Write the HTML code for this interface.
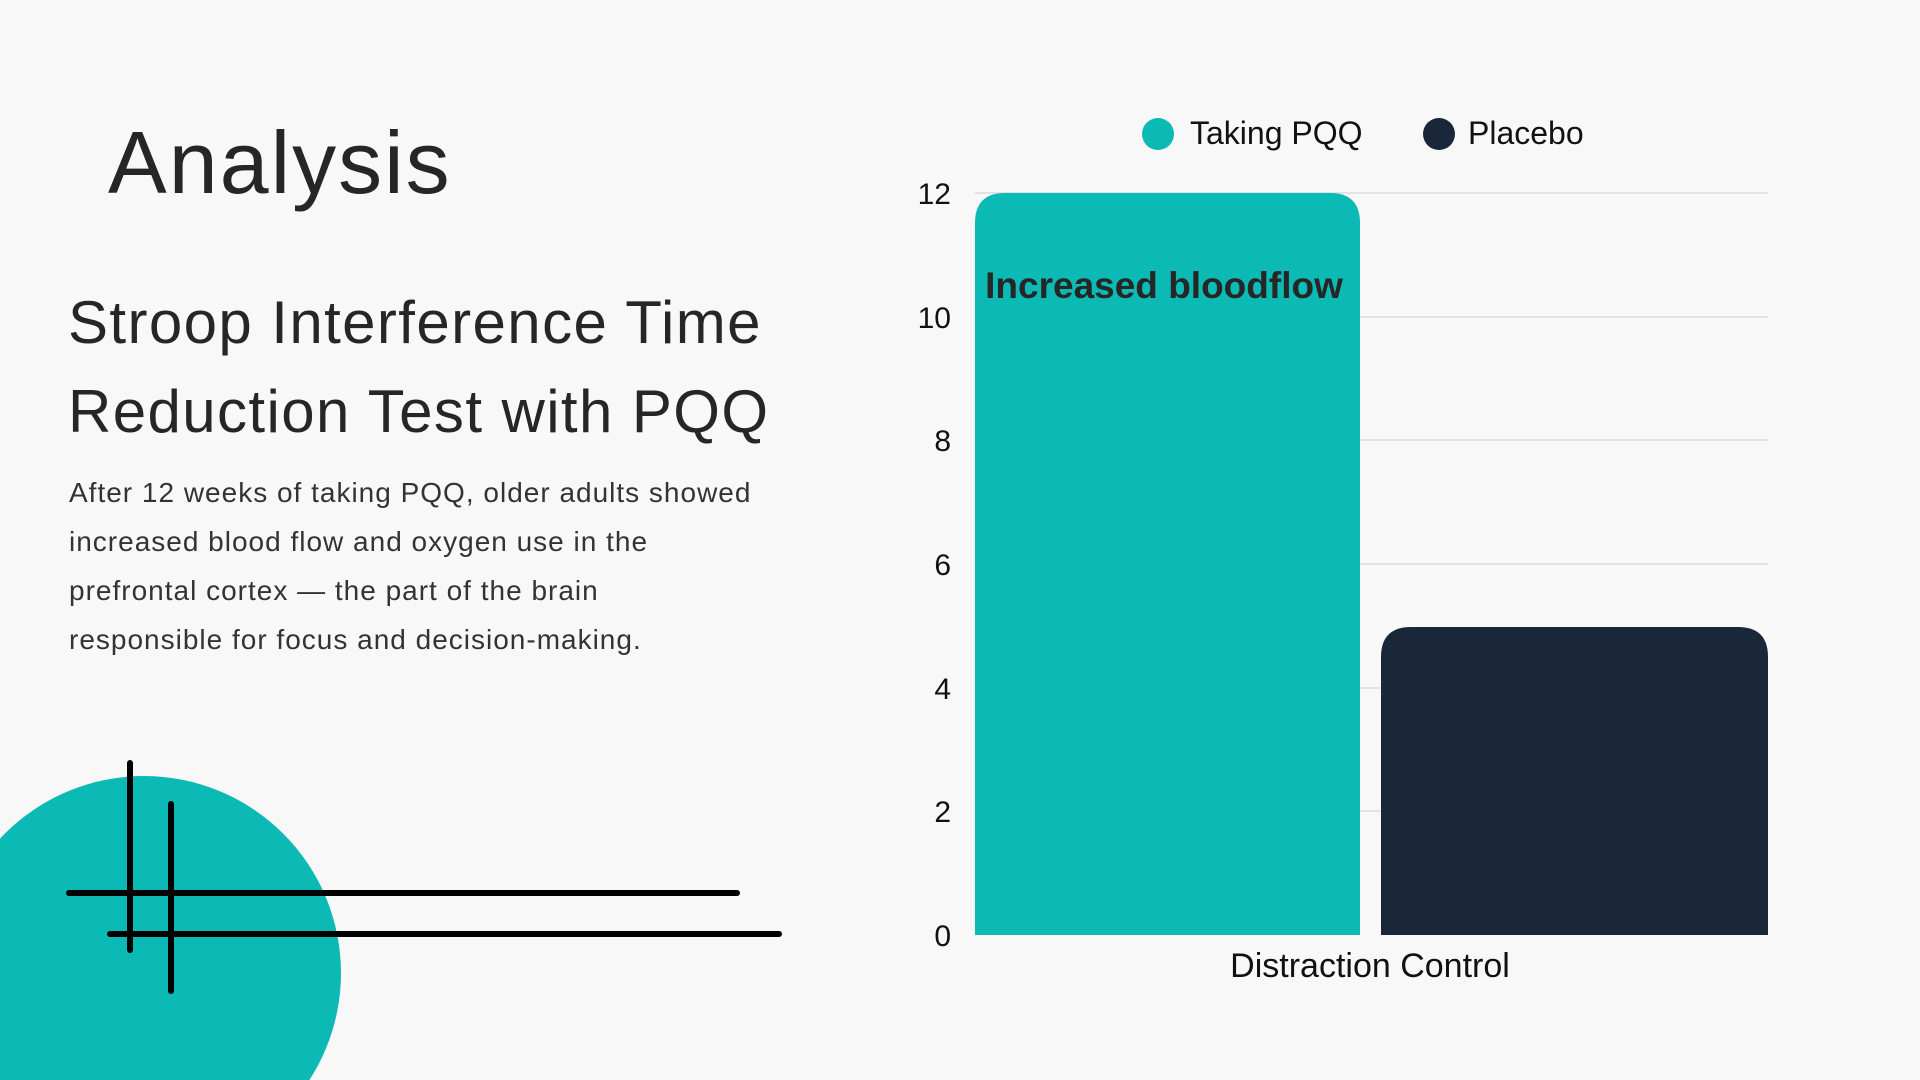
<!DOCTYPE html>
<html><head><meta charset="utf-8"><style>
html,body{margin:0;padding:0;}
body{width:1920px;height:1080px;background:#f8f8f8;overflow:hidden;position:relative;font-family:"Liberation Sans",sans-serif;color:#262626;}
.abs{position:absolute;white-space:nowrap;}
</style></head><body>
<svg class="abs" style="left:0;top:0" width="1920" height="1080">
<circle cx="144" cy="973" r="197" fill="#0bbab5"/>
<g stroke="#000" stroke-width="6" stroke-linecap="round">
<line x1="69" y1="893" x2="737" y2="893"/>
<line x1="110" y1="934" x2="779" y2="934"/>
<line x1="130" y1="763" x2="130" y2="950"/>
<line x1="171" y1="804" x2="171" y2="991"/>
</g>
<g stroke="#dcdcdc" stroke-width="1.5">
<line x1="975" y1="193" x2="1768" y2="193"/>
<line x1="975" y1="317" x2="1768" y2="317"/>
<line x1="975" y1="440" x2="1768" y2="440"/>
<line x1="975" y1="564" x2="1768" y2="564"/>
<line x1="975" y1="688" x2="1768" y2="688"/>
<line x1="975" y1="811" x2="1768" y2="811"/>
</g>
<path d="M975 935 V223 Q975 193 1005 193 H1330 Q1360 193 1360 223 V935 Z" fill="#0bbab5"/>
<path d="M1381 935 V657 Q1381 627 1411 627 H1738 Q1768 627 1768 657 V935 Z" fill="#1a2639"/>
<g font-family="Liberation Sans, sans-serif" font-size="30" fill="#111" text-anchor="end">
<text x="951" y="204">12</text>
<text x="951" y="328">10</text>
<text x="951" y="451">8</text>
<text x="951" y="575">6</text>
<text x="951" y="699">4</text>
<text x="951" y="822">2</text>
<text x="951" y="946">0</text>
</g>
<text x="1164" y="298" text-anchor="middle" font-family="Liberation Sans, sans-serif" font-weight="bold" font-size="37" fill="#262626">Increased bloodflow</text>
<text x="1370" y="977" text-anchor="middle" font-family="Liberation Sans, sans-serif" font-size="34" fill="#111">Distraction Control</text>
<circle cx="1158" cy="134" r="16" fill="#0bbab5"/>
<text x="1190" y="144" font-family="Liberation Sans, sans-serif" font-size="32" fill="#111">Taking PQQ</text>
<circle cx="1439" cy="134" r="16" fill="#1a2639"/>
<text x="1468" y="144" font-family="Liberation Sans, sans-serif" font-size="32" fill="#111">Placebo</text>
</svg>
<div class="abs" style="left:108px;top:108px;font-size:88px;line-height:110px;letter-spacing:2px;color:#262626">Analysis</div>
<div class="abs" style="left:68px;top:278px;font-size:60px;line-height:89px;letter-spacing:1.4px;color:#262626">Stroop Interference Time<br>Reduction Test with PQQ</div>
<div class="abs" style="left:69px;top:468px;font-size:28px;line-height:49px;letter-spacing:1px;color:#333">After 12 weeks of taking PQQ, older adults showed<br>increased blood flow and oxygen use in the<br>prefrontal cortex — the part of the brain<br>responsible for focus and decision-making.</div>
</body></html>
